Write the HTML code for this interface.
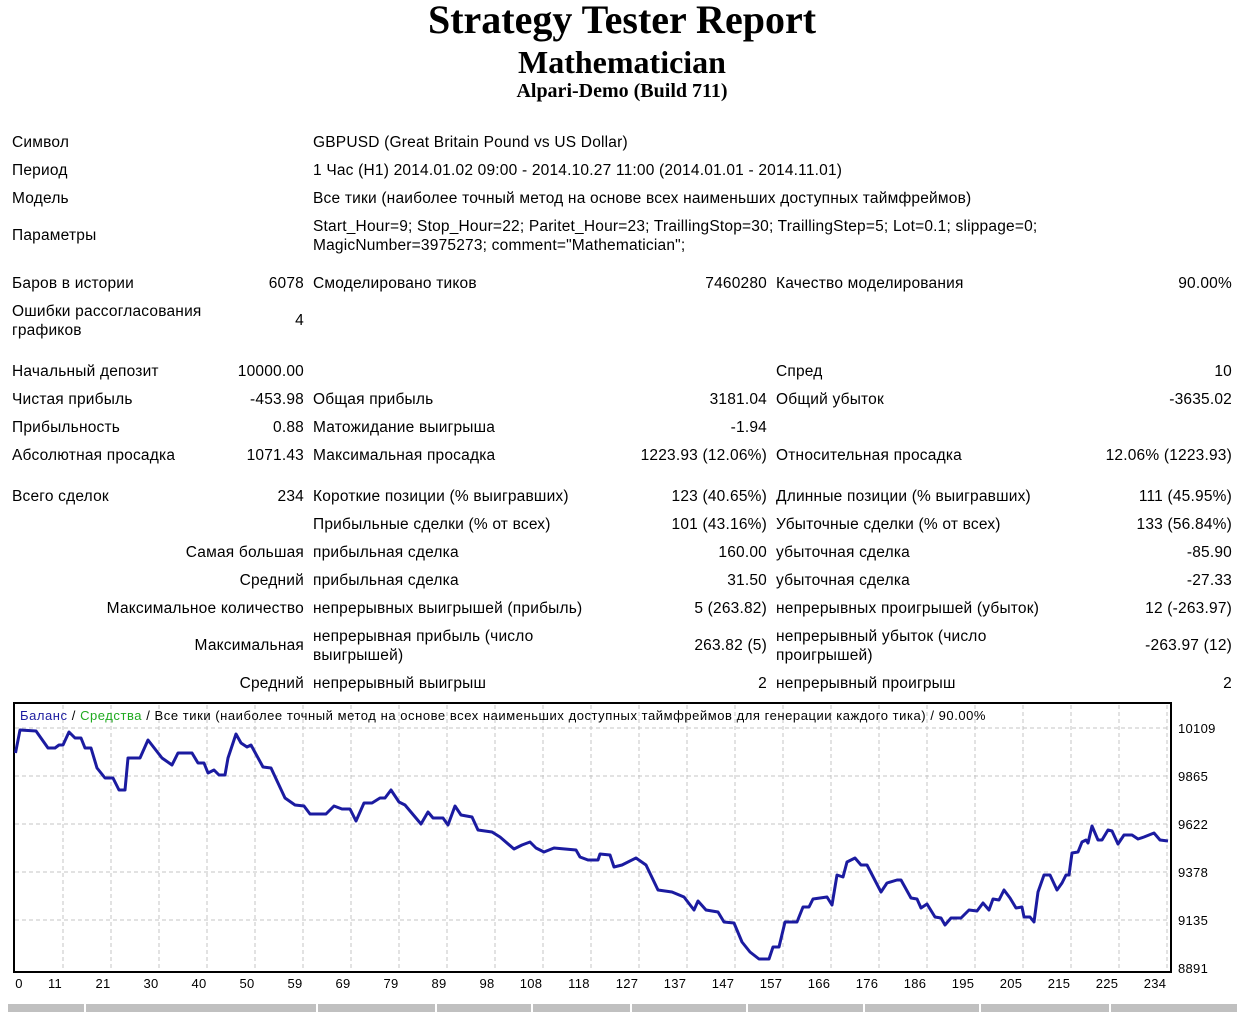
<!DOCTYPE html>
<html><head><meta charset="utf-8">
<style>
html,body{margin:0;padding:0;background:#fff;width:1250px;height:1012px;overflow:hidden;position:relative}
.t{position:absolute;font-family:"Liberation Sans","DejaVu Sans",sans-serif;font-size:15.5px;letter-spacing:0.2px;line-height:18px;color:#000;white-space:nowrap;margin-top:1px}
.r{text-align:right}
.h{position:absolute;left:0;width:1244px;text-align:center;font-family:"Liberation Serif",serif;font-weight:bold;color:#000;white-space:nowrap}
</style></head><body>
<div class="h" style="top:-2px;font-size:40px;line-height:44px">Strategy Tester Report</div>
<div class="h" style="top:44px;font-size:32px;line-height:36px">Mathematician</div>
<div class="h" style="top:80px;font-size:20px;line-height:23px">Alpari-Demo (Build 711)</div>

<div class="t" style="left:12px;top:133px">Символ</div>
<div class="t" style="left:313px;top:133px">GBPUSD (Great Britain Pound vs US Dollar)</div>
<div class="t" style="left:12px;top:161px">Период</div>
<div class="t" style="left:313px;top:161px">1 Час (H1) 2014.01.02 09:00 - 2014.10.27 11:00 (2014.01.01 - 2014.11.01)</div>
<div class="t" style="left:12px;top:189px">Модель</div>
<div class="t" style="left:313px;top:189px">Все тики (наиболее точный метод на основе всех наименьших доступных таймфреймов)</div>
<div class="t" style="left:12px;top:226px">Параметры</div>
<div class="t" style="left:313px;top:217px">Start_Hour=9; Stop_Hour=22; Paritet_Hour=23; TraillingStop=30; TraillingStep=5; Lot=0.1; slippage=0;</div>
<div class="t" style="left:313px;top:236px">MagicNumber=3975273; comment="Mathematician";</div>

<div class="t" style="left:12px;top:274px">Баров в истории</div>
<div class="t r" style="right:946px;top:274px">6078</div>
<div class="t" style="left:313px;top:274px">Смоделировано тиков</div>
<div class="t r" style="right:483px;top:274px">7460280</div>
<div class="t" style="left:776px;top:274px">Качество моделирования</div>
<div class="t r" style="right:18px;top:274px">90.00%</div>

<div class="t" style="left:12px;top:302px">Ошибки рассогласования</div>
<div class="t" style="left:12px;top:321px">графиков</div>
<div class="t r" style="right:946px;top:311px">4</div>

<div class="t" style="left:12px;top:362px">Начальный депозит</div>
<div class="t r" style="right:946px;top:362px">10000.00</div>
<div class="t" style="left:776px;top:362px">Спред</div>
<div class="t r" style="right:18px;top:362px">10</div>

<div class="t" style="left:12px;top:390px">Чистая прибыль</div>
<div class="t r" style="right:946px;top:390px">-453.98</div>
<div class="t" style="left:313px;top:390px">Общая прибыль</div>
<div class="t r" style="right:483px;top:390px">3181.04</div>
<div class="t" style="left:776px;top:390px">Общий убыток</div>
<div class="t r" style="right:18px;top:390px">-3635.02</div>

<div class="t" style="left:12px;top:418px">Прибыльность</div>
<div class="t r" style="right:946px;top:418px">0.88</div>
<div class="t" style="left:313px;top:418px">Матожидание выигрыша</div>
<div class="t r" style="right:483px;top:418px">-1.94</div>

<div class="t" style="left:12px;top:446px">Абсолютная просадка</div>
<div class="t r" style="right:946px;top:446px">1071.43</div>
<div class="t" style="left:313px;top:446px">Максимальная просадка</div>
<div class="t r" style="right:483px;top:446px">1223.93 (12.06%)</div>
<div class="t" style="left:776px;top:446px">Относительная просадка</div>
<div class="t r" style="right:18px;top:446px">12.06% (1223.93)</div>

<div class="t" style="left:12px;top:487px">Всего сделок</div>
<div class="t r" style="right:946px;top:487px">234</div>
<div class="t" style="left:313px;top:487px">Короткие позиции (% выигравших)</div>
<div class="t r" style="right:483px;top:487px">123 (40.65%)</div>
<div class="t" style="left:776px;top:487px">Длинные позиции (% выигравших)</div>
<div class="t r" style="right:18px;top:487px">111 (45.95%)</div>

<div class="t" style="left:313px;top:515px">Прибыльные сделки (% от всех)</div>
<div class="t r" style="right:483px;top:515px">101 (43.16%)</div>
<div class="t" style="left:776px;top:515px">Убыточные сделки (% от всех)</div>
<div class="t r" style="right:18px;top:515px">133 (56.84%)</div>

<div class="t r" style="right:946px;top:543px">Самая большая</div>
<div class="t" style="left:313px;top:543px">прибыльная сделка</div>
<div class="t r" style="right:483px;top:543px">160.00</div>
<div class="t" style="left:776px;top:543px">убыточная сделка</div>
<div class="t r" style="right:18px;top:543px">-85.90</div>

<div class="t r" style="right:946px;top:571px">Средний</div>
<div class="t" style="left:313px;top:571px">прибыльная сделка</div>
<div class="t r" style="right:483px;top:571px">31.50</div>
<div class="t" style="left:776px;top:571px">убыточная сделка</div>
<div class="t r" style="right:18px;top:571px">-27.33</div>

<div class="t r" style="right:946px;top:599px">Максимальное количество</div>
<div class="t" style="left:313px;top:599px">непрерывных выигрышей (прибыль)</div>
<div class="t r" style="right:483px;top:599px">5 (263.82)</div>
<div class="t" style="left:776px;top:599px">непрерывных проигрышей (убыток)</div>
<div class="t r" style="right:18px;top:599px">12 (-263.97)</div>

<div class="t r" style="right:946px;top:636px">Максимальная</div>
<div class="t" style="left:313px;top:627px">непрерывная прибыль (число</div>
<div class="t" style="left:313px;top:646px">выигрышей)</div>
<div class="t r" style="right:483px;top:636px">263.82 (5)</div>
<div class="t" style="left:776px;top:627px">непрерывный убыток (число</div>
<div class="t" style="left:776px;top:646px">проигрышей)</div>
<div class="t r" style="right:18px;top:636px">-263.97 (12)</div>

<div class="t r" style="right:946px;top:674px">Средний</div>
<div class="t" style="left:313px;top:674px">непрерывный выигрыш</div>
<div class="t r" style="right:483px;top:674px">2</div>
<div class="t" style="left:776px;top:674px">непрерывный проигрыш</div>
<div class="t r" style="right:18px;top:674px">2</div>

<svg style="position:absolute;left:0;top:0" width="1250" height="1012" xmlns="http://www.w3.org/2000/svg">
<g stroke="#c4c4c4" stroke-width="1" stroke-dasharray="4,3">
<line x1="15" y1="728" x2="1170" y2="728"/><line x1="15" y1="776" x2="1170" y2="776"/>
<line x1="15" y1="824" x2="1170" y2="824"/><line x1="15" y1="872" x2="1170" y2="872"/>
<line x1="15" y1="920" x2="1170" y2="920"/>
<line x1="63" y1="705" x2="63" y2="971"/><line x1="111" y1="705" x2="111" y2="971"/><line x1="159" y1="705" x2="159" y2="971"/><line x1="207" y1="705" x2="207" y2="971"/><line x1="255" y1="705" x2="255" y2="971"/><line x1="303" y1="705" x2="303" y2="971"/><line x1="351" y1="705" x2="351" y2="971"/><line x1="399" y1="705" x2="399" y2="971"/><line x1="447" y1="705" x2="447" y2="971"/><line x1="495" y1="705" x2="495" y2="971"/><line x1="543" y1="705" x2="543" y2="971"/><line x1="591" y1="705" x2="591" y2="971"/><line x1="639" y1="705" x2="639" y2="971"/><line x1="687" y1="705" x2="687" y2="971"/><line x1="735" y1="705" x2="735" y2="971"/><line x1="783" y1="705" x2="783" y2="971"/><line x1="831" y1="705" x2="831" y2="971"/><line x1="879" y1="705" x2="879" y2="971"/><line x1="927" y1="705" x2="927" y2="971"/><line x1="975" y1="705" x2="975" y2="971"/><line x1="1023" y1="705" x2="1023" y2="971"/><line x1="1071" y1="705" x2="1071" y2="971"/><line x1="1119" y1="705" x2="1119" y2="971"/><line x1="1167" y1="705" x2="1167" y2="971"/>
</g>
<rect x="14" y="703" width="1157" height="269" fill="none" stroke="#000" stroke-width="2"/>
<polyline fill="none" stroke="#1b1ba0" stroke-width="3" stroke-linejoin="round" points="15.5,753 20,730 36,731 48,748 55,748 59,745 63,745 69,732 75,738 81,738 85,748 91,748 97,768 105,778 113,778 119,790 125,790 128,758 140,758 148,740 162,758 172,765 178,753 192,753 198,763 204,763 208,773 214,770 219,775 225,775 228,758 236,734 241,743 247,747 251,745 263,767 271,768 285,798 295,805 304,806 310,814 326,814 334,806 342,809 350,809 356,821 364,803 372,803 380,798 385,798 391,790 399,802 405,805 421,824 428,812 433,818 443,818 448,825 455,806 461,815 472,817 478,830 492,832 500,837 514,849 522,845 530,842 536,848 544,852 554,848 576,850 580,857 588,860 598,860 600,854 610,855 614,867 622,865 636,858 646,865 658,890 672,892 684,897 694,910 698,901 706,910 718,912 724,922 734,923 742,942 750,952 759,959 769,959 773,947 779,947 785,922 797,922 803,907 809,907 813,899 827,897 832,905 837,875 843,877 847,862 855,858 861,865 867,865 881,892 887,883 897,880 901,880 911,898 917,899 921,908 927,904 935,917 941,918 945,925 951,918 961,918 969,910 977,911 983,903 989,910 993,899 999,900 1004,890 1010,898 1016,908 1022,907 1024,917 1030,917 1034,922 1038,892 1044,875 1050,875 1057,890 1062,883 1066,875 1069,875 1072,853 1078,852 1082,842 1086,840 1088,843 1092,826 1098,840 1102,840 1108,830 1112,831 1118,844 1124,835 1132,835 1138,839 1144,837 1154,833 1160,840 1168,841"/>
<g font-family="Liberation Sans, DejaVu Sans, sans-serif" font-size="13" fill="#000">
<text x="20" y="720" letter-spacing="0.55"><tspan fill="#1b1ba0">Баланс</tspan> / <tspan fill="#1faa1f">Средства</tspan> / Все тики (наиболее точный метод на основе всех наименьших доступных таймфреймов для генерации каждого тика) / 90.00%</text>
<g font-size="13" letter-spacing="0.3">
<text x="1178" y="733">10109</text><text x="1178" y="781">9865</text><text x="1178" y="829">9622</text><text x="1178" y="877">9378</text><text x="1178" y="925">9135</text><text x="1178" y="973">8891</text>
</g>
<g text-anchor="middle" letter-spacing="0.3">
<text x="19" y="988">0</text><text x="55" y="988">11</text><text x="103" y="988">21</text><text x="151" y="988">30</text><text x="199" y="988">40</text><text x="247" y="988">50</text><text x="295" y="988">59</text><text x="343" y="988">69</text><text x="391" y="988">79</text><text x="439" y="988">89</text><text x="487" y="988">98</text><text x="531" y="988">108</text><text x="579" y="988">118</text><text x="627" y="988">127</text><text x="675" y="988">137</text><text x="723" y="988">147</text><text x="771" y="988">157</text><text x="819" y="988">166</text><text x="867" y="988">176</text><text x="915" y="988">186</text><text x="963" y="988">195</text><text x="1011" y="988">205</text><text x="1059" y="988">215</text><text x="1107" y="988">225</text><text x="1155" y="988">234</text>
</g>
</g>
<rect x="8" y="1004" width="1229" height="8" fill="#c0c0c0"/>
<g stroke="#fff" stroke-width="2">
<line x1="85" y1="1004" x2="85" y2="1012"/><line x1="317" y1="1004" x2="317" y2="1012"/><line x1="436" y1="1004" x2="436" y2="1012"/><line x1="532" y1="1004" x2="532" y2="1012"/><line x1="631" y1="1004" x2="631" y2="1012"/><line x1="747" y1="1004" x2="747" y2="1012"/><line x1="864" y1="1004" x2="864" y2="1012"/><line x1="980" y1="1004" x2="980" y2="1012"/><line x1="1110" y1="1004" x2="1110" y2="1012"/>
</g>
</svg>
</body></html>
